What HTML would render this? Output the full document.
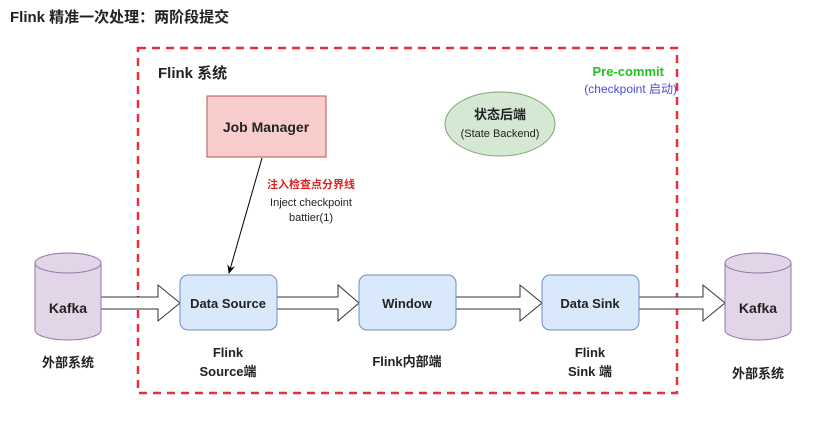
<!DOCTYPE html>
<html><head><meta charset="utf-8"><style>
body{margin:0;background:#fff;width:816px;height:418px;overflow:hidden}
svg text{font-family:"Liberation Sans","Noto Sans CJK SC",sans-serif}
</style></head><body>
<svg width="816" height="418" xmlns="http://www.w3.org/2000/svg">
<defs><marker id="a" markerWidth="10" markerHeight="10" refX="8" refY="5" orient="auto" markerUnits="userSpaceOnUse"><path d="M0,1 L9,5 L0,9 L3,5z" fill="#000"/></marker></defs>
<text x="10" y="22" font-size="15" font-weight="bold" fill="#222">Flink 精准一次处理：两阶段提交</text>
<rect x="138" y="48" width="539" height="345" fill="none" stroke="#e8303a" stroke-width="2.5" stroke-dasharray="8,6"/>
<text x="158" y="78" font-size="15" font-weight="bold" fill="#222">Flink 系统</text>
<text x="664" y="76" font-size="13" font-weight="bold" fill="#22c022" text-anchor="end">Pre-commit</text>
<text x="677" y="93" font-size="12" fill="#4a4ae0" text-anchor="end">(checkpoint 启动)</text>
<rect x="207" y="96" width="119" height="61" fill="#f8cecc" stroke="#b85450"/>
<text x="266" y="132" font-size="14" font-weight="bold" text-anchor="middle" fill="#222">Job Manager</text>
<ellipse cx="500" cy="124" rx="55" ry="32" fill="#d5e8d4" stroke="#82a370"/>
<text x="500" y="119" font-size="13" font-weight="bold" text-anchor="middle" fill="#222">状态后端</text>
<text x="500" y="137" font-size="11" text-anchor="middle" fill="#222">(State Backend)</text>
<line x1="262" y1="158" x2="229" y2="273" stroke="#000" marker-end="url(#a)"/>
<rect x="258" y="176" width="106" height="50" fill="#fff"/>
<text x="311" y="188" font-size="11" font-weight="bold" fill="#e02020" text-anchor="middle">注入检查点分界线</text>
<text x="311" y="206" font-size="11" fill="#222" text-anchor="middle">Inject checkpoint</text>
<text x="311" y="221" font-size="11" fill="#222" text-anchor="middle">battier(1)</text>
<g fill="#fff" stroke="#333" stroke-width="1">
<path d="M101,297 H158 V285 L180,303 L158,321 V309 H101Z"/>
<path d="M277,297 H338 V285 L359,303 L338,321 V309 H277Z"/>
<path d="M456,297 H520 V285 L542,303 L520,321 V309 H456Z"/>
<path d="M639,297 H703 V285 L725,303 L703,321 V309 H639Z"/>
</g>
<g fill="#dae8fc" stroke="#6c8ebf">
<rect x="180" y="275" width="97" height="55" rx="8"/>
<rect x="359" y="275" width="97" height="55" rx="8"/>
<rect x="542" y="275" width="97" height="55" rx="8"/>
</g>
<g font-size="13" font-weight="bold" text-anchor="middle" fill="#222">
<text x="228" y="308">Data Source</text>
<text x="407" y="308">Window</text>
<text x="590" y="308">Data Sink</text>
</g>
<g fill="#e1d5e7" stroke="#9673a6">
<path d="M35,263 V330 A33,10 0 0 0 101,330 V263"/>
<ellipse cx="68" cy="263" rx="33" ry="10"/>
<path d="M725,263 V330 A33,10 0 0 0 791,330 V263"/>
<ellipse cx="758" cy="263" rx="33" ry="10"/>
</g>
<g font-size="14" font-weight="bold" text-anchor="middle" fill="#222">
<text x="68" y="313">Kafka</text>
<text x="758" y="313">Kafka</text>
</g>
<g font-size="13" font-weight="bold" text-anchor="middle" fill="#222">
<text x="68" y="367">外部系统</text>
<text x="758" y="378">外部系统</text>
<text x="228" y="357">Flink</text>
<text x="228" y="376">Source端</text>
<text x="407" y="366">Flink内部端</text>
<text x="590" y="357">Flink</text>
<text x="590" y="376">Sink 端</text>
</g>
</svg>
</body></html>
